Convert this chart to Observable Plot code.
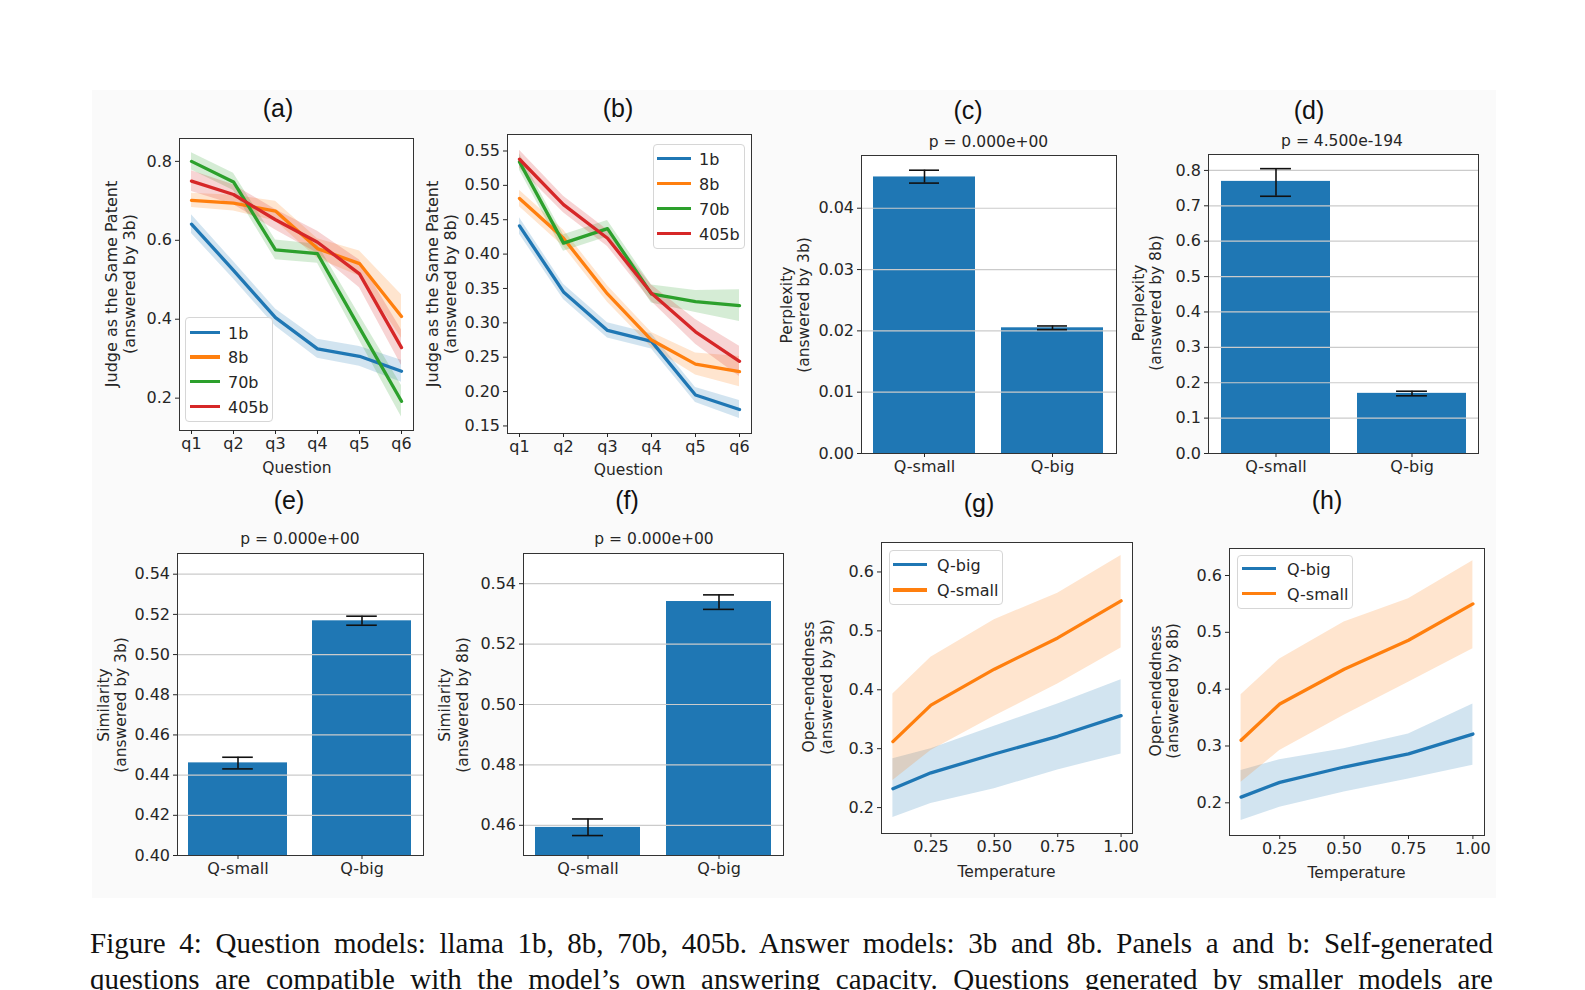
<!DOCTYPE html>
<html><head><meta charset="utf-8">
<script src="https://cdn.jsdelivr.net/npm/d3@7"></script>
<script src="https://cdn.jsdelivr.net/npm/@observablehq/plot@0.6"></script>
<style>
html,body{margin:0;padding:0;background:#fff;}
#page{position:relative;width:1585px;height:990px;overflow:hidden;background:#fff;font-family:"DejaVu Sans",sans-serif;color:#262626;}
#figbg{position:absolute;left:92px;top:90px;width:1404px;height:808px;background:#fafafa;}
.lbl{position:absolute;transform:translate(-50%,-50%);white-space:nowrap;font-size:15.5px;}
.ylbl{position:absolute;transform:translate(-50%,-50%) rotate(-90deg);white-space:pre;text-align:center;font-size:16px;}
.letter{position:absolute;transform:translate(-50%,-50%);font-family:"Liberation Sans",Arial,sans-serif;font-size:25px;color:#111;white-space:nowrap;}
.legend{position:absolute;box-sizing:border-box;border:1px solid #d6d6d6;border-radius:4px;background:rgba(255,255,255,0.85);}
.legend span{position:absolute;}
.cap{position:absolute;left:90px;width:1403px;height:38px;line-height:38px;overflow:hidden;font-family:"Liberation Serif","Times New Roman",serif;font-size:29px;color:#111;text-align:justify;text-align-last:justify;}
</style></head>
<body><div id="page"><div id="figbg"></div></div>
<script>
// ---------------- data ----------------
const questions = ["q1","q2","q3","q4","q5","q6"];
const modelsQ = ["1b","8b","70b","405b"];
// panel (a): answered by 3b ; rows follow modelsQ order
const aMean = [
  [0.641, 0.524, 0.404, 0.325, 0.306, 0.268],
  [0.701, 0.694, 0.674, 0.579, 0.541, 0.407],
  [0.800, 0.748, 0.576, 0.566, 0.378, 0.192],
  [0.750, 0.716, 0.652, 0.595, 0.515, 0.328]
];
const aErr = [
  [0.024, 0.022, 0.022, 0.024, 0.025, 0.028],
  [0.018, 0.020, 0.025, 0.025, 0.032, 0.055],
  [0.022, 0.022, 0.025, 0.024, 0.032, 0.040],
  [0.026, 0.025, 0.026, 0.028, 0.035, 0.045]
];
// panel (b): answered by 8b
const bMean = [
  [0.441, 0.345, 0.289, 0.273, 0.195, 0.174],
  [0.481, 0.423, 0.342, 0.275, 0.240, 0.229],
  [0.534, 0.416, 0.437, 0.342, 0.331, 0.325],
  [0.538, 0.472, 0.423, 0.343, 0.287, 0.244]
];
const bErr = [
  [0.012, 0.011, 0.011, 0.011, 0.011, 0.013],
  [0.012, 0.012, 0.012, 0.011, 0.016, 0.022],
  [0.012, 0.012, 0.012, 0.013, 0.016, 0.023],
  [0.013, 0.012, 0.012, 0.012, 0.018, 0.022]
];
// bar panels
const barCats = ["Q-small","Q-big"];
const cVal = [0.0451, 0.0205], cLo = [0.0441, 0.0202], cHi = [0.0462, 0.0208];
const dVal = [0.769, 0.170],   dLo = [0.727, 0.163],   dHi = [0.805, 0.176];
const eVal = [0.4461, 0.5168], eLo = [0.4431, 0.5146], eHi = [0.4489, 0.5191];
const fVal = [0.4593, 0.5341], fLo = [0.4566, 0.5315], fHi = [0.4621, 0.5363];
const pTitles = ["p = 0.000e+00", "p = 4.500e-194", "p = 0.000e+00", "p = 0.000e+00"];
// temperature panels; rows follow tempSeries order
const temps = [0.1, 0.25, 0.5, 0.75, 1.0];
const tempSeries = ["Q-big","Q-small"];
const gMean = [[0.232, 0.259, 0.291, 0.321, 0.356], [0.312, 0.374, 0.435, 0.488, 0.551]];
const gLo   = [[0.183, 0.207, 0.232, 0.264, 0.291], [0.246, 0.297, 0.355, 0.410, 0.471]];
const gHi   = [[0.283, 0.300, 0.338, 0.376, 0.417], [0.393, 0.455, 0.519, 0.564, 0.628]];
const hMean = [[0.210, 0.236, 0.263, 0.286, 0.321], [0.310, 0.374, 0.435, 0.486, 0.550]];
const hLo   = [[0.169, 0.192, 0.219, 0.242, 0.266], [0.236, 0.292, 0.354, 0.412, 0.471]];
const hHi   = [[0.257, 0.276, 0.295, 0.321, 0.374], [0.390, 0.453, 0.518, 0.559, 0.626]];
// tick labels
const aTicks = [0.2, 0.4, 0.6, 0.8];
const bTicks = [0.15, 0.20, 0.25, 0.30, 0.35, 0.40, 0.45, 0.50, 0.55];
const cTicks = [0, 0.01, 0.02, 0.03, 0.04];
const dTicks = [0, 0.1, 0.2, 0.3, 0.4, 0.5, 0.6, 0.7, 0.8];
const eTicks = [0.40, 0.42, 0.44, 0.46, 0.48, 0.50, 0.52, 0.54];
const fTicks = [0.46, 0.48, 0.50, 0.52, 0.54];
const ghTicks = [0.2, 0.3, 0.4, 0.5, 0.6];
const tempTicks = [0.25, 0.50, 0.75, 1.00];
const tab10 = ["#1f77b4", "#ff7f0e", "#2ca02c", "#d62728"];

// ---------------- layout ----------------
const page = document.getElementById("page");
const FR = {
  a: {x0:179, y0:138, x1:413, y1:430},
  b: {x0:507, y0:134, x1:751, y1:433},
  c: {x0:861, y0:155, x1:1116, y1:453},
  d: {x0:1208, y0:154, x1:1478, y1:453},
  e: {x0:177, y0:553, x1:423, y1:855},
  f: {x0:523, y0:553, x1:783, y1:855},
  g: {x0:881, y0:542, x1:1132, y1:833},
  h: {x0:1229, y0:548, x1:1484, y1:835}
};
const TICK_FONT = 16;

function makePlot(fr, cfg) {
  const mL = 80, mR = 20, mT = 20, mB = 50;
  const svg = Plot.plot({
    width: fr.x1 - fr.x0 + mL + mR, height: fr.y1 - fr.y0 + mT + mB,
    marginLeft: mL, marginRight: mR, marginTop: mT, marginBottom: mB,
    style: {background: "transparent", fontFamily: '"DejaVu Sans", sans-serif', fontSize: TICK_FONT + "px", color: "#262626", overflow: "visible"},
    x: cfg.x, y: cfg.y, color: cfg.color, marks: cfg.marks
  });
  svg.style.position = "absolute";
  svg.style.left = (fr.x0 - mL) + "px";
  svg.style.top = (fr.y0 - mT) + "px";
  page.appendChild(svg);
}
const axY = (ticks, fmt) => Plot.axisY({ticks, tickFormat: fmt, tickSize: 4, tickPadding: 3.5, label: null, fontSize: TICK_FONT});
const axX = (o = {}) => Plot.axisX({...o, tickSize: 4, tickPadding: 3.5, label: null, fontSize: TICK_FONT});

function rowsFrom(xs, names, mean, lo, hi) {
  const rows = [];
  names.forEach((s, i) => xs.forEach((x, j) => rows.push({s, x, m: mean[i][j], lo: lo[i][j], hi: hi[i][j]})));
  return rows;
}
function linePanel(fr, rows, names, xOpt, yDomain, yTicks, yFmt, xAxisOpt) {
  makePlot(fr, {
    x: xOpt, y: {domain: yDomain}, color: {domain: names, range: tab10},
    marks: [
      Plot.frame({fill: "white", stroke: "none"}),
      Plot.areaY(rows, {x: "x", y1: "lo", y2: "hi", fill: "s", z: "s", fillOpacity: 0.2}),
      Plot.lineY(rows, {x: "x", y: "m", stroke: "s", z: "s", strokeWidth: 3.3}),
      Plot.frame({stroke: "#333", strokeWidth: 1}),
      axY(yTicks, yFmt), axX(xAxisOpt)
    ]
  });
}
function barPanel(fr, val, lo, hi, yDomain, yTicks, yFmt) {
  const rows = barCats.map((c, i) => ({c, v: val[i], lo: lo[i], hi: hi[i]}));
  const bw = 0.8 * (fr.x1 - fr.x0) / 1.98;
  const inset = (bw - 31) / 2;
  makePlot(fr, {
    x: {type: "band", domain: barCats, paddingInner: 0.2, paddingOuter: 0.09},
    y: {domain: yDomain},
    marks: [
      Plot.frame({fill: "white", stroke: "none"}),
      Plot.barY(rows, {x: "c", y: "v", fill: "#1f77b4", clip: true}),
      Plot.gridY({ticks: yTicks, stroke: "#cbcbcb", strokeOpacity: 1, strokeWidth: 1.2}),
      Plot.ruleX(rows, {x: "c", y1: "lo", y2: "hi", stroke: "#111", strokeWidth: 1.6}),
      Plot.tickY(rows, {x: "c", y: "lo", stroke: "#111", strokeWidth: 1.6, insetLeft: inset, insetRight: inset}),
      Plot.tickY(rows, {x: "c", y: "hi", stroke: "#111", strokeWidth: 1.6, insetLeft: inset, insetRight: inset}),
      Plot.frame({stroke: "#333", strokeWidth: 1}),
      axY(yTicks, yFmt), axX()
    ]
  });
}

// ---------------- panels ----------------
const qx = {type: "point", domain: questions, padding: 0.25};
linePanel(FR.a, rowsFrom(questions, modelsQ, aMean, aMean.map((r,i)=>r.map((v,j)=>v-aErr[i][j])), aMean.map((r,i)=>r.map((v,j)=>v+aErr[i][j]))),
  modelsQ, qx, [0.118, 0.858], aTicks, d3.format(".1f"));
linePanel(FR.b, rowsFrom(questions, modelsQ, bMean, bMean.map((r,i)=>r.map((v,j)=>v-bErr[i][j])), bMean.map((r,i)=>r.map((v,j)=>v+bErr[i][j]))),
  modelsQ, qx, [0.139, 0.574], bTicks, d3.format(".2f"));
barPanel(FR.c, cVal, cLo, cHi, [0, 0.0486], cTicks, d3.format(".2f"));
barPanel(FR.d, dVal, dLo, dHi, [0, 0.845], dTicks, d3.format(".1f"));
barPanel(FR.e, eVal, eLo, eHi, [0.40, 0.5503], eTicks, d3.format(".2f"));
barPanel(FR.f, fVal, fLo, fHi, [0.45, 0.55], fTicks, d3.format(".2f"));
const tx = {type: "linear", domain: [0.055, 1.045]};
linePanel(FR.g, rowsFrom(temps, tempSeries, gMean, gLo, gHi), tempSeries, tx, [0.156, 0.650], ghTicks, d3.format(".1f"), {ticks: tempTicks, tickFormat: d3.format(".2f")});
linePanel(FR.h, rowsFrom(temps, tempSeries, hMean, hLo, hHi), tempSeries, tx, [0.1425, 0.6475], ghTicks, d3.format(".1f"), {ticks: tempTicks, tickFormat: d3.format(".2f")});

// ---------------- text ----------------
function addDiv(cls, text, x, y, extra = {}) {
  const d = document.createElement("div");
  d.className = cls; d.textContent = text;
  d.style.left = x + "px"; d.style.top = y + "px";
  Object.assign(d.style, extra);
  page.appendChild(d);
  return d;
}
[["(a)",278,108],["(b)",618,108],["(c)",968,110],["(d)",1309,110],["(e)",289,500],["(f)",627,500],["(g)",979,503],["(h)",1327,500]]
  .forEach(([t,x,y]) => addDiv("letter", t, x, y));
addDiv("lbl", pTitles[0], 988.5, 141.5);
addDiv("lbl", pTitles[1], 1342, 140.5);
addDiv("lbl", pTitles[2], 300, 539);
addDiv("lbl", pTitles[3], 654, 539);
addDiv("ylbl", "Judge as the Same Patent\n(answered by 3b)", 121, 284, {lineHeight: "18px"});
addDiv("ylbl", "Judge as the Same Patent\n(answered by 8b)", 442, 284, {lineHeight: "18px"});
addDiv("ylbl", "Perplexity\n(answered by 3b)", 795, 305, {fontSize: "15.5px", lineHeight: "16.5px"});
addDiv("ylbl", "Perplexity\n(answered by 8b)", 1147.5, 303, {fontSize: "15.5px", lineHeight: "17px"});
addDiv("ylbl", "Similarity\n(answered by 3b)", 113, 705, {fontSize: "15.5px", lineHeight: "17px"});
addDiv("ylbl", "Similarity\n(answered by 8b)", 453.5, 705, {fontSize: "15.5px", lineHeight: "18px"});
addDiv("ylbl", "Open-endedness\n(answered by 3b)", 818, 687, {fontSize: "15.5px", lineHeight: "18px"});
addDiv("ylbl", "Open-endedness\n(answered by 8b)", 1165, 691, {fontSize: "15.5px", lineHeight: "17px"});
addDiv("lbl", "Question", 297, 468);
addDiv("lbl", "Question", 628.5, 470);
addDiv("lbl", "Temperature", 1006.5, 871.5);
addDiv("lbl", "Temperature", 1356.5, 873);

function legend(box, names, y0, dy, lx0, lx1, tx) {
  const L = document.createElement("div");
  L.className = "legend";
  Object.assign(L.style, {left: box[0] + "px", top: box[1] + "px", width: (box[2] - box[0]) + "px", height: (box[3] - box[1]) + "px"});
  names.forEach((n, i) => {
    const y = y0 + i * dy - box[1];
    const ln = document.createElement("span");
    Object.assign(ln.style, {left: (lx0 - box[0] - 1) + "px", top: (y - 2) + "px", width: (lx1 - lx0) + "px", height: "3.5px", background: tab10[i]});
    const t = document.createElement("span");
    t.textContent = n;
    Object.assign(t.style, {left: (tx - box[0] - 1) + "px", top: y + "px", transform: "translateY(-50%)", fontSize: "16px", whiteSpace: "nowrap"});
    L.appendChild(ln); L.appendChild(t);
  });
  page.appendChild(L);
}
legend([185, 317, 273, 422], modelsQ, 331.5, 24.7, 190, 220, 228);
legend([653, 143.5, 744.5, 249], modelsQ, 157.5, 25, 657, 691, 699);
legend([888.5, 550, 1003, 605], tempSeries, 563.5, 25.5, 893, 927, 937);
legend([1237, 554.5, 1353, 608.5], tempSeries, 567.5, 25, 1242, 1276, 1287);

addDiv("cap", "Figure 4: Question models: llama 1b, 8b, 70b, 405b.  Answer models: 3b and 8b.  Panels a and b: Self-generated", 90, 924);
addDiv("cap", "questions are compatible with the model\u2019s own answering capacity.  Questions generated by smaller models are", 90, 960);
</script>
</body></html>
